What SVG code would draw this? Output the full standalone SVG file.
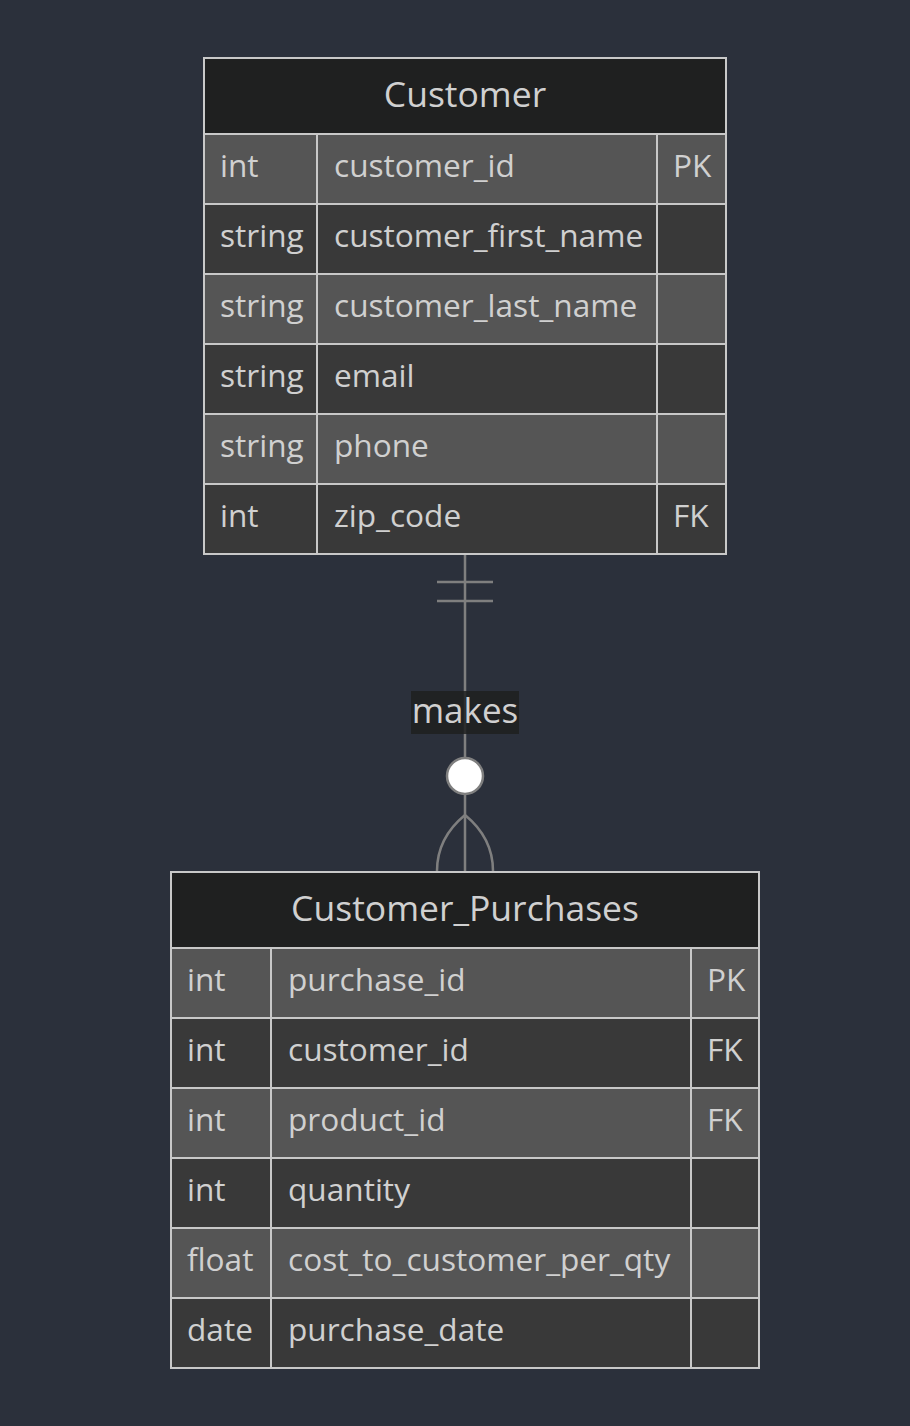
<svg xmlns="http://www.w3.org/2000/svg" width="910" height="1426" viewBox="0 0 910 1426">
<style>
.bg{fill:#2b303b}
.hdr{fill:#1f2020;stroke:#c8c8c8;stroke-width:2}
.odd{fill:#555555;stroke:#c8c8c8;stroke-width:2}
.even{fill:#393939;stroke:#c8c8c8;stroke-width:2}
.t{font-family:"Open Sans","Liberation Sans",sans-serif;font-size:31.6px;fill:#d0d0d0}
.h{font-family:"Open Sans","Liberation Sans",sans-serif;font-size:35.5px;fill:#d0d0d0;text-anchor:middle}
.rel{stroke:#7f7f7f;stroke-width:2.5;fill:none}
</style>
<rect class="bg" x="0" y="0" width="910" height="1426"/>
<g id="Customer">
<rect class="hdr" x="204" y="58" width="522" height="76"/>
<text class="h" x="465" y="107">Customer</text>
<rect class="odd" x="204" y="134" width="113" height="70"/><rect class="odd" x="317" y="134" width="340" height="70"/><rect class="odd" x="657" y="134" width="69" height="70"/>
<rect class="even" x="204" y="204" width="113" height="70"/><rect class="even" x="317" y="204" width="340" height="70"/><rect class="even" x="657" y="204" width="69" height="70"/>
<rect class="odd" x="204" y="274" width="113" height="70"/><rect class="odd" x="317" y="274" width="340" height="70"/><rect class="odd" x="657" y="274" width="69" height="70"/>
<rect class="even" x="204" y="344" width="113" height="70"/><rect class="even" x="317" y="344" width="340" height="70"/><rect class="even" x="657" y="344" width="69" height="70"/>
<rect class="odd" x="204" y="414" width="113" height="70"/><rect class="odd" x="317" y="414" width="340" height="70"/><rect class="odd" x="657" y="414" width="69" height="70"/>
<rect class="even" x="204" y="484" width="113" height="70"/><rect class="even" x="317" y="484" width="340" height="70"/><rect class="even" x="657" y="484" width="69" height="70"/>
<text class="t" x="220" y="177">int</text><text class="t" x="334" y="177">customer_id</text><text class="t" x="673" y="177">PK</text>
<text class="t" x="220" y="247">string</text><text class="t" x="334" y="247">customer_first_name</text>
<text class="t" x="220" y="317">string</text><text class="t" x="334" y="317">customer_last_name</text>
<text class="t" x="220" y="387">string</text><text class="t" x="334" y="387">email</text>
<text class="t" x="220" y="457">string</text><text class="t" x="334" y="457">phone</text>
<text class="t" x="220" y="527">int</text><text class="t" x="334" y="527">zip_code</text><text class="t" x="673" y="527">FK</text>
</g>
<g id="Customer_Purchases">
<rect class="hdr" x="171" y="872" width="588" height="76"/>
<text class="h" x="465" y="921">Customer_Purchases</text>
<rect class="odd" x="171" y="948" width="100" height="70"/><rect class="odd" x="271" y="948" width="420" height="70"/><rect class="odd" x="691" y="948" width="68" height="70"/>
<rect class="even" x="171" y="1018" width="100" height="70"/><rect class="even" x="271" y="1018" width="420" height="70"/><rect class="even" x="691" y="1018" width="68" height="70"/>
<rect class="odd" x="171" y="1088" width="100" height="70"/><rect class="odd" x="271" y="1088" width="420" height="70"/><rect class="odd" x="691" y="1088" width="68" height="70"/>
<rect class="even" x="171" y="1158" width="100" height="70"/><rect class="even" x="271" y="1158" width="420" height="70"/><rect class="even" x="691" y="1158" width="68" height="70"/>
<rect class="odd" x="171" y="1228" width="100" height="70"/><rect class="odd" x="271" y="1228" width="420" height="70"/><rect class="odd" x="691" y="1228" width="68" height="70"/>
<rect class="even" x="171" y="1298" width="100" height="70"/><rect class="even" x="271" y="1298" width="420" height="70"/><rect class="even" x="691" y="1298" width="68" height="70"/>
<text class="t" x="187" y="991">int</text><text class="t" x="288" y="991">purchase_id</text><text class="t" x="707" y="991">PK</text>
<text class="t" x="187" y="1061">int</text><text class="t" x="288" y="1061">customer_id</text><text class="t" x="707" y="1061">FK</text>
<text class="t" x="187" y="1131">int</text><text class="t" x="288" y="1131">product_id</text><text class="t" x="707" y="1131">FK</text>
<text class="t" x="187" y="1201">int</text><text class="t" x="288" y="1201">quantity</text>
<text class="t" x="187" y="1271">float</text><text class="t" x="288" y="1271">cost_to_customer_per_qty</text>
<text class="t" x="187" y="1341">date</text><text class="t" x="288" y="1341">purchase_date</text>
</g>
<g id="connectors">
<path class="rel" d="M465 555 V871"/>
<path class="rel" d="M437 582 H493 M437 601 H493"/>
<path class="rel" d="M465 815 Q437 838 437 871 M465 815 Q493 838 493 871"/>
<circle cx="465" cy="776" r="18" fill="#ffffff" stroke="#7f7f7f" stroke-width="2.5"/>
<rect x="411" y="691" width="108" height="43" fill="#1f2020" fill-opacity="0.85"/>
<text class="h" x="465" y="723" style="font-size:35px">makes</text>
</g>
</svg>
